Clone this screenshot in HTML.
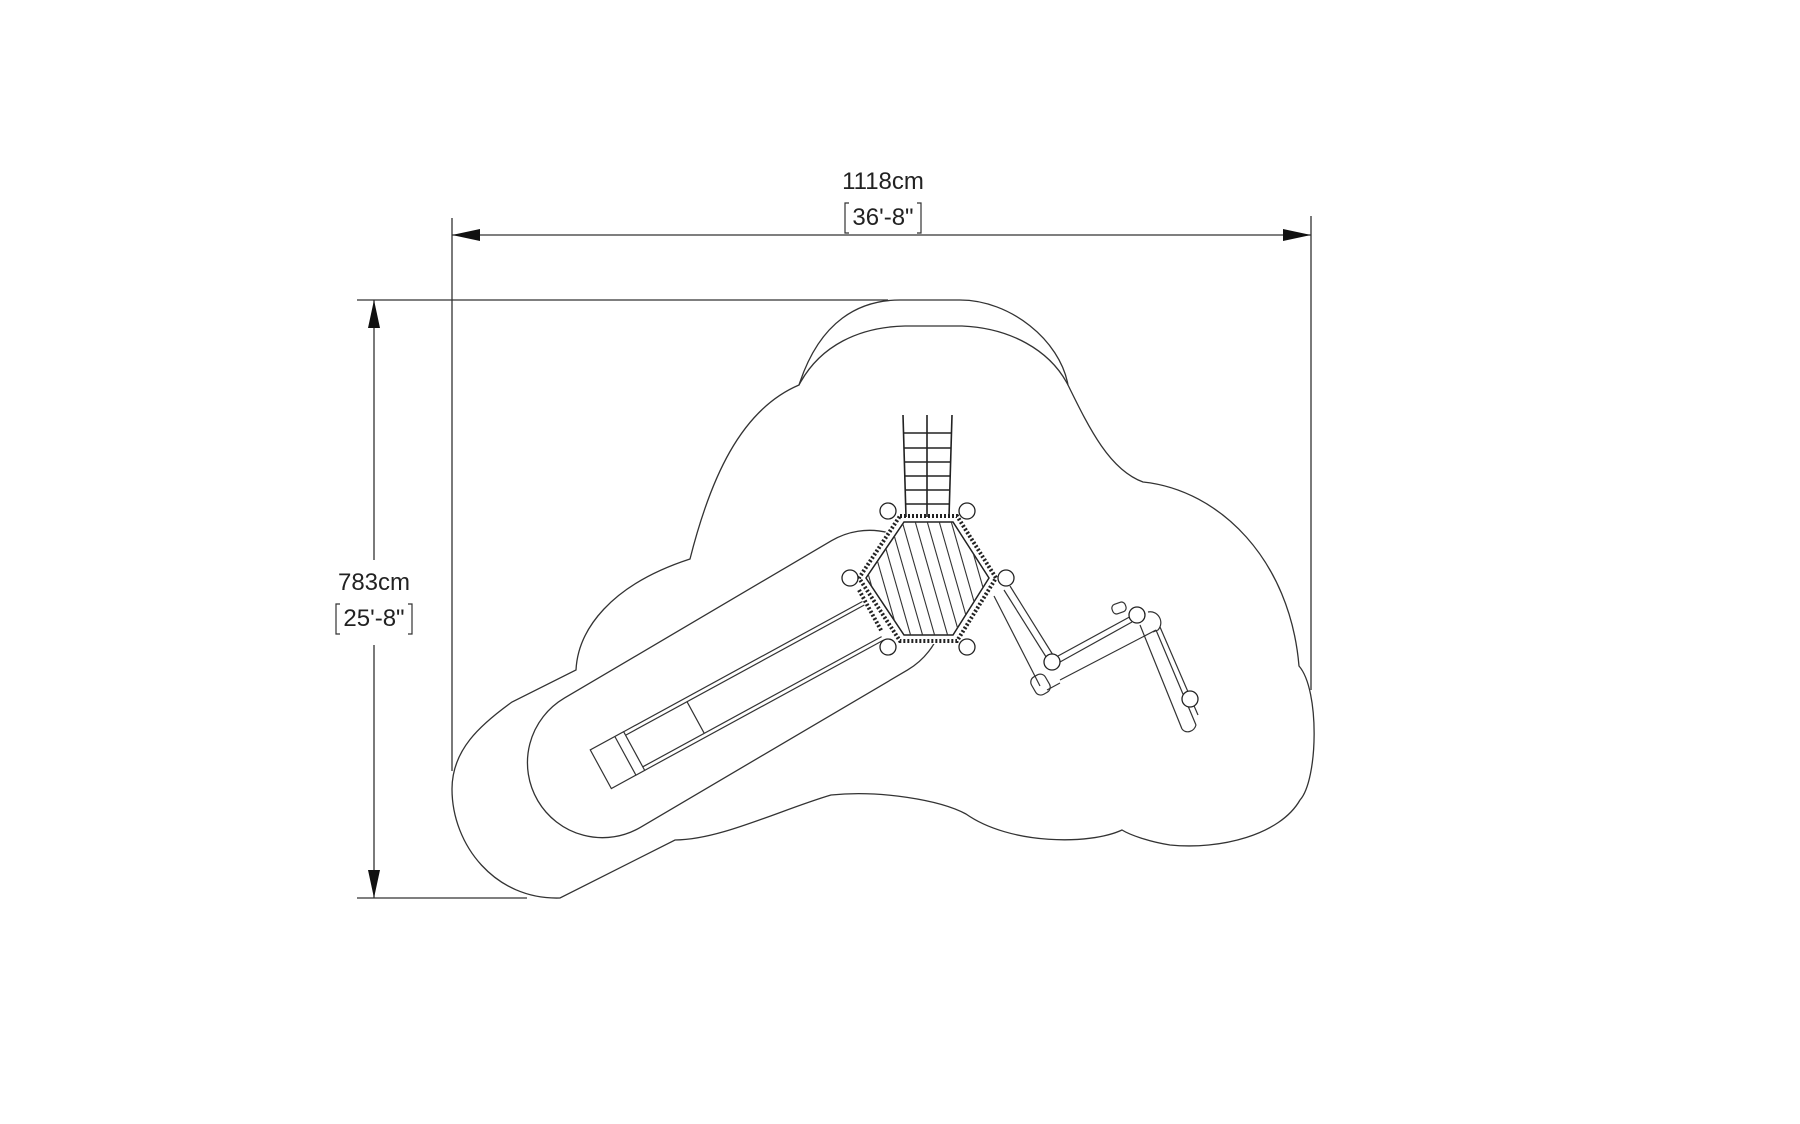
<!DOCTYPE html>
<html><head><meta charset="utf-8"><style>
html,body{margin:0;padding:0;background:#fff;}
svg{display:block;}
text{font-family:"Liberation Sans",sans-serif;fill:#222;}
</style></head><body>
<svg width="1800" height="1124" viewBox="0 0 1800 1124" xmlns="http://www.w3.org/2000/svg">
<g fill="none" stroke="#333" stroke-width="1.3">
<line x1="452" y1="218" x2="452" y2="771"/>
<line x1="1311" y1="216" x2="1311" y2="690"/>
<line x1="452" y1="235" x2="1311" y2="235"/>
<line x1="357" y1="300" x2="888" y2="300"/>
<line x1="357" y1="898" x2="527" y2="898"/>
<line x1="374" y1="300" x2="374" y2="560"/>
<line x1="374" y1="645" x2="374" y2="898"/>
</g>
<g fill="#111">
<polygon points="452,235 480,229 480,241"/>
<polygon points="1311,235 1283,229 1283,241"/>
<polygon points="374,300 368,328 380,328"/>
<polygon points="374,898 368,870 380,870"/>
</g>
<text x="883" y="189" font-size="24" text-anchor="middle">1118cm</text>
<text x="883" y="225" font-size="24" text-anchor="middle">36'-8"</text>
<path d="M849 203 h-4 v30 h4 M917 203 h4 v30 h-4" fill="none" stroke="#333" stroke-width="1.2"/>
<text x="374" y="590" font-size="24" text-anchor="middle">783cm</text>
<text x="374" y="626" font-size="24" text-anchor="middle">25'-8"</text>
<path d="M340 604 h-4 v30 h4 M408 604 h4 v30 h-4" fill="none" stroke="#333" stroke-width="1.2"/>

<g fill="none" stroke="#333" stroke-width="1.3">
<path d="M452 789 C452 750 480 725 512 702 L576 670 C578 630 610 585 690 559 C710 480 740 410 799 385 C820 320 860 300 900 300 L960 300 C1010 300 1060 340 1068 385 C1090 430 1110 470 1143 482 C1220 490 1290 560 1299 666 C1320 690 1318 780 1300 800 C1280 835 1220 850 1170 845 C1150 842 1130 835 1122 830 C1090 845 1010 845 966 814 C940 800 880 790 831 795 C780 810 720 840 675 840 L560 898 C495 900 452 845 452 789 Z"/>
<path d="M799 385 C820 345 860 327 905 326 L962 326 C1010 328 1050 350 1068 385"/>
<rect x="-230" y="-75" width="460" height="150" rx="75" transform="translate(736,684) rotate(-30.5)"/>
</g>

<!-- hexagon cover (hides capsule end) -->
<polygon points="898,513 959,513 999,578 959,644 898,644 856,578" fill="#fff"/>

<g transform="translate(880,617) rotate(151.4)" fill="none" stroke="#333" stroke-width="1.2">
<line x1="8" y1="-22" x2="280" y2="-22"/>
<line x1="8" y1="-18" x2="280" y2="-18"/>
<line x1="8" y1="18" x2="280" y2="18"/>
<line x1="8" y1="22" x2="280" y2="22"/>
<line x1="210" y1="-18" x2="210" y2="18"/>
<rect x="280" y="-22" width="38" height="44"/>
<line x1="290" y1="-22" x2="290" y2="22"/>
</g>

<g fill="none" stroke="#222" stroke-width="1.6">
<line x1="903" y1="415" x2="906" y2="517"/>
<line x1="927" y1="415" x2="927" y2="517"/>
<line x1="952" y1="415" x2="949" y2="517"/>
<line x1="904" y1="433" x2="951" y2="433"/>
<line x1="904" y1="448" x2="951" y2="448"/>
<line x1="905" y1="462" x2="950" y2="462"/>
<line x1="905" y1="476" x2="950" y2="476"/>
<line x1="905" y1="490" x2="950" y2="490"/>
<line x1="906" y1="504" x2="949" y2="504"/>
</g>

<defs><clipPath id="hx"><polygon points="904,522 953,522 989,578 953,635 904,635 866,578"/></clipPath></defs>
<polygon points="900,516 957,516 996,578 957,641 900,641 859,578" fill="none" stroke="#222" stroke-width="4" stroke-dasharray="2 2"/>
<polygon points="904,522 953,522 989,578 953,635 904,635 866,578" fill="none" stroke="#222" stroke-width="1.5"/>
<g clip-path="url(#hx)" stroke="#333" stroke-width="1.1">
<line x1="835" y1="500" x2="875" y2="640"/>
<line x1="847" y1="500" x2="887" y2="640"/>
<line x1="860" y1="500" x2="900" y2="640"/>
<line x1="872" y1="500" x2="912" y2="640"/>
<line x1="884" y1="500" x2="924" y2="640"/>
<line x1="896" y1="500" x2="936" y2="640"/>
<line x1="909" y1="500" x2="949" y2="640"/>
<line x1="921" y1="500" x2="961" y2="640"/>
<line x1="933" y1="500" x2="973" y2="640"/>
<line x1="945" y1="500" x2="985" y2="640"/>
<line x1="958" y1="500" x2="998" y2="640"/>
</g>
<line x1="859" y1="590" x2="882" y2="632" stroke="#222" stroke-width="4" stroke-dasharray="2 2"/>

<g fill="none" stroke="#333" stroke-width="1.2">
<line x1="994" y1="596" x2="1040" y2="686"/>
<line x1="1010" y1="586" x2="1053" y2="655"/>
<line x1="1004" y1="590" x2="1048" y2="660"/>
<line x1="1058" y1="656" x2="1135" y2="614"/>
<line x1="1060" y1="662" x2="1132" y2="622"/>
<line x1="1060" y1="680" x2="1156" y2="630"/>
<rect x="-8" y="-7" width="16" height="20" rx="6" transform="translate(1039,682) rotate(-30)"/>
<path d="M1047 690 L1060 683"/>
<rect x="1112" y="603" width="14" height="10" rx="4" transform="rotate(-20 1119 608)"/>
<path d="M1148 612 C1158 610 1165 622 1158 630 L1153 632"/>
<line x1="1140" y1="625" x2="1182" y2="729"/>
<line x1="1156" y1="630" x2="1196" y2="725"/>
<line x1="1160" y1="627" x2="1198" y2="715"/>
<path d="M1182 729 C1186 734 1194 732 1196 725"/>
</g>

<g fill="#fff" stroke="#222" stroke-width="1.3">
<circle cx="888" cy="511" r="8"/>
<circle cx="967" cy="511" r="8"/>
<circle cx="850" cy="578" r="8"/>
<circle cx="1006" cy="578" r="8"/>
<circle cx="888" cy="647" r="8"/>
<circle cx="967" cy="647" r="8"/>
<circle cx="1052" cy="662" r="8"/>
<circle cx="1137" cy="615" r="8"/>
<circle cx="1190" cy="699" r="8"/>
</g>
</svg>
</body></html>
